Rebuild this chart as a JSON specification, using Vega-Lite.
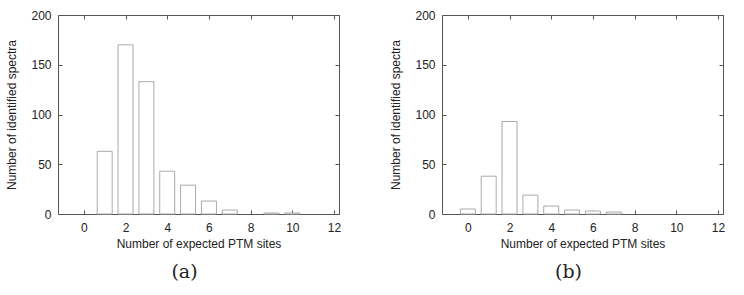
{
  "$schema": "https://vega.github.io/schema/vega-lite/v6.json",
  "background": "white",
  "padding": {"left": 5, "top": 8, "right": 5, "bottom": 5},
  "datasets": {
    "a": [
      {"sites": 1, "spectra": 63},
      {"sites": 2, "spectra": 170},
      {"sites": 3, "spectra": 133},
      {"sites": 4, "spectra": 43},
      {"sites": 5, "spectra": 29},
      {"sites": 6, "spectra": 13},
      {"sites": 7, "spectra": 4},
      {"sites": 9, "spectra": 1},
      {"sites": 10, "spectra": 1}
    ],
    "b": [
      {"sites": 0, "spectra": 5},
      {"sites": 1, "spectra": 38},
      {"sites": 2, "spectra": 93},
      {"sites": 3, "spectra": 19},
      {"sites": 4, "spectra": 8},
      {"sites": 5, "spectra": 4},
      {"sites": 6, "spectra": 3},
      {"sites": 7, "spectra": 2}
    ]
  },
  "config": {
    "font": "Liberation Sans",
    "view": {"stroke": "#555555", "strokeWidth": 1},
    "axis": {
      "grid": false,
      "domain": false,
      "tickColor": "#555555",
      "tickSize": -4,
      "labelFont": "Liberation Sans",
      "labelFontSize": 12,
      "labelColor": "#222222",
      "titleFont": "Liberation Sans",
      "titleFontSize": 12,
      "titleFontWeight": "normal",
      "titleColor": "#222222"
    },
    "title": {"font": "DejaVu Serif", "fontSize": 19, "fontWeight": "normal", "color": "#222222", "orient": "bottom", "offset": 14, "frame": "group", "anchor": "middle", "dx": -14}
  },
  "spacing": 47,
  "hconcat": [
    {
      "width": 281,
      "height": 199,
      "title": "(a)",
      "data": {"name": "a"},
      "layer": [
        {
          "mark": {"type": "bar", "size": 15, "fill": "white", "stroke": "#aaaaaa", "strokeWidth": 1},
          "encoding": {
            "x": {"field": "sites", "type": "quantitative", "scale": {"domain": [-1, 12], "nice": false},
                  "axis": {"values": [0, 2, 4, 6, 8, 10, 12], "title": "Number of expected PTM sites", "labelPadding": 12, "titlePadding": 5}},
            "y": {"field": "spectra", "type": "quantitative", "scale": {"domain": [0, 200], "nice": false},
                  "axis": {"values": [0, 50, 100, 150, 200], "title": "Number of identified spectra", "labelPadding": 11, "titlePadding": 12}}
          }
        },
        {
          "mark": {"type": "point", "opacity": 0},
          "encoding": {
            "x": {"field": "sites", "type": "quantitative", "axis": {"orient": "top", "values": [0, 2, 4, 6, 8, 10, 12], "labels": false, "title": null}},
            "y": {"field": "spectra", "type": "quantitative", "axis": {"orient": "right", "values": [0, 50, 100, 150, 200], "labels": false, "title": null}}
          }
        }
      ],
      "resolve": {"axis": {"x": "independent", "y": "independent"}}
    },
    {
      "width": 281,
      "height": 199,
      "title": "(b)",
      "data": {"name": "b"},
      "layer": [
        {
          "mark": {"type": "bar", "size": 15, "fill": "white", "stroke": "#aaaaaa", "strokeWidth": 1},
          "encoding": {
            "x": {"field": "sites", "type": "quantitative", "scale": {"domain": [-1, 12], "nice": false},
                  "axis": {"values": [0, 2, 4, 6, 8, 10, 12], "title": "Number of expected PTM sites", "labelPadding": 12, "titlePadding": 5}},
            "y": {"field": "spectra", "type": "quantitative", "scale": {"domain": [0, 200], "nice": false},
                  "axis": {"values": [0, 50, 100, 150, 200], "title": "Number of identified spectra", "labelPadding": 11, "titlePadding": 12}}
          }
        },
        {
          "mark": {"type": "point", "opacity": 0},
          "encoding": {
            "x": {"field": "sites", "type": "quantitative", "axis": {"orient": "top", "values": [0, 2, 4, 6, 8, 10, 12], "labels": false, "title": null}},
            "y": {"field": "spectra", "type": "quantitative", "axis": {"orient": "right", "values": [0, 50, 100, 150, 200], "labels": false, "title": null}}
          }
        }
      ],
      "resolve": {"axis": {"x": "independent", "y": "independent"}}
    }
  ]
}
